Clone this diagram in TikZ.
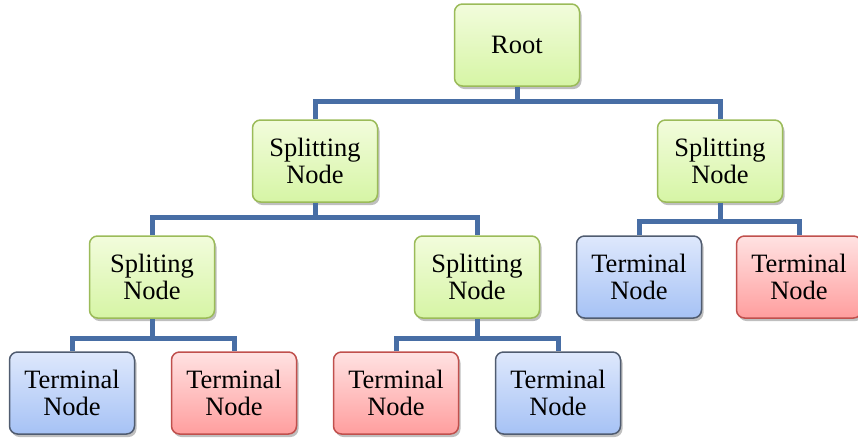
\documentclass[tikz,border=0pt]{standalone}
\usepackage{fontspec}
\setmainfont{Liberation Serif}
\usetikzlibrary{shadows}
\definecolor{lineblue}{RGB}{72,110,165}
\definecolor{gtop}{RGB}{242,252,220}
\definecolor{gbot}{RGB}{214,245,165}
\definecolor{gborder}{RGB}{155,187,89}
\definecolor{btop}{RGB}{222,232,252}
\definecolor{bbot}{RGB}{166,194,245}
\definecolor{bborder}{RGB}{80,92,112}
\definecolor{rtop}{RGB}{255,226,226}
\definecolor{rbot}{RGB}{255,158,158}
\definecolor{rborder}{RGB}{192,80,77}
\tikzset{
  box/.style={rounded corners=8pt, minimum width=125pt, minimum height=82pt,
    align=center, line width=1.5pt, inner sep=0pt,
    font=\fontsize{26.5}{27}\selectfont,
    drop shadow={shadow xshift=2pt, shadow yshift=-3pt, opacity=0.25, fill=black}},
  greenbox/.style={box, draw=gborder, top color=gtop, bottom color=gbot},
  bluebox/.style={box, draw=bborder, top color=btop, bottom color=bbot},
  redbox/.style={box, draw=rborder, top color=rtop, bottom color=rbot},
  conn/.style={draw=lineblue, line width=5pt}
}
\begin{document}
\begin{tikzpicture}[x=1pt,y=-1pt]
\useasboundingbox (0,0) rectangle (858,440);
\node[greenbox] (root) at (517,45) {Root};
\node[greenbox] (s1) at (315,161) {Splitting\\Node};
\node[greenbox] (s2) at (720,161) {Splitting\\Node};
\node[greenbox] (s3) at (152,277) {Spliting\\Node};
\node[greenbox] (s4) at (477,277) {Splitting\\Node};
\node[bluebox] (t1) at (639,277) {Terminal\\Node};
\node[redbox] (t2) at (799,277) {Terminal\\Node};
\node[bluebox] (t3) at (72,393) {Terminal\\Node};
\node[redbox] (t4) at (234,393) {Terminal\\Node};
\node[redbox] (t5) at (396,393) {Terminal\\Node};
\node[bluebox] (t6) at (558,393) {Terminal\\Node};
\begin{scope}[on background layer/.try]
\draw[conn] (root.south) -- ++(0,15) -| (s1.north);
\draw[conn] (root.south) ++(0,15) -| (s2.north);
\draw[conn] (s1.south) -- ++(0,15) -| (s3.north);
\draw[conn] (s1.south) ++(0,15) -| (s4.north);
\draw[conn] (s2.south) -- ++(0,19) -| (t1.north);
\draw[conn] (s2.south) ++(0,19) -| (t2.north);
\draw[conn] (s3.south) -- ++(0,20) -| (t3.north);
\draw[conn] (s3.south) ++(0,20) -| (t4.north);
\draw[conn] (s4.south) -- ++(0,20) -| (t5.north);
\draw[conn] (s4.south) ++(0,20) -| (t6.north);
\end{scope}
\end{tikzpicture}
\end{document}
